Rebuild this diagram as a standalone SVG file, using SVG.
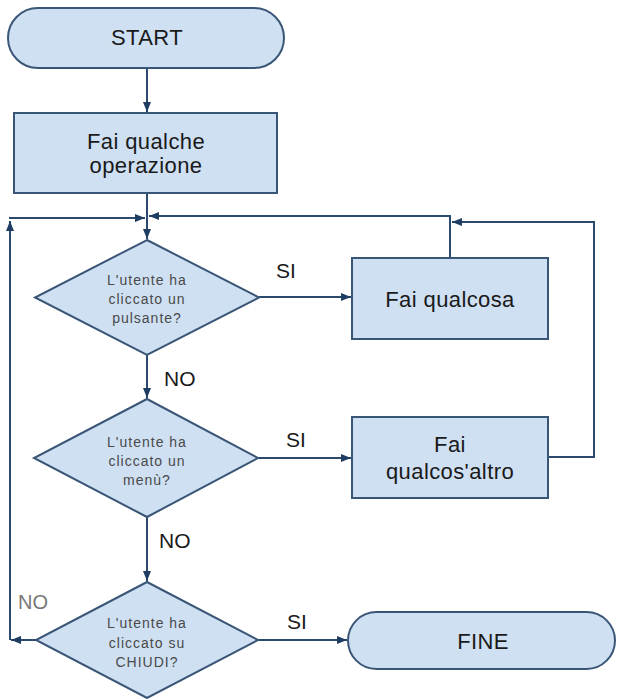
<svg xmlns="http://www.w3.org/2000/svg" width="617" height="699" viewBox="0 0 617 699">
<defs>
<marker id="ah" markerUnits="userSpaceOnUse" markerWidth="11" markerHeight="9" refX="10" refY="4" orient="auto">
<path d="M0,0 L10,4 L0,8 Z" fill="#1f3d63"/>
</marker>
<style>
.shape{fill:#cfe0f2;stroke:#3a5676;stroke-width:2}
.edge{fill:none;stroke:#2b4a6e;stroke-width:2;marker-end:url(#ah)}
.t{font-family:"Liberation Sans",Arial,sans-serif;font-size:22px;letter-spacing:0.4px;fill:#1a1a1a;text-anchor:middle}
.q{font-family:"Liberation Sans",Arial,sans-serif;font-size:14px;letter-spacing:1px;fill:#4a4a4a;text-anchor:middle}
.lbl{font-family:"Liberation Sans",Arial,sans-serif;font-size:21px;fill:#1a1a1a}
.lbl2{font-family:"Liberation Sans",Arial,sans-serif;font-size:20px;fill:#777777}
</style>
</defs>
<rect width="617" height="699" fill="#ffffff"/>
<g id="connectors">
<path class="edge" d="M147,68 L147,112"/>
<path class="edge" d="M147,193 L147,239"/>
<path class="edge" d="M9,218 L145,218"/>
<path class="edge" d="M450,258 L450,216 L149,216"/>
<path class="edge" d="M259,297 L351,297"/>
<path class="edge" d="M147,355 L147,398"/>
<path class="edge" d="M258,458 L351,458"/>
<path class="edge" d="M548,457 L594,457 L594,222 L452,222"/>
<path class="edge" d="M147,517 L147,581"/>
<path class="edge" d="M258,640 L347,640"/>
<path class="edge" d="M36,640 L11,640"/>
<path class="edge" d="M10,640 L10,221"/>
</g>
<g id="labels">
<text class="lbl" x="276" y="278">SI</text>
<text class="lbl" x="286" y="447">SI</text>
<text class="lbl" x="287" y="629">SI</text>
<text class="lbl" x="164" y="386">NO</text>
<text class="lbl" x="159" y="548">NO</text>
<text class="lbl2" x="18" y="609">NO</text>
</g>
<g id="start">
<rect class="shape" x="8" y="8" width="276" height="60" rx="30" ry="30"/>
<text class="t" x="147" y="45">START</text>
</g>
<g id="op">
<rect class="shape" x="14" y="113" width="263" height="80"/>
<text class="t" x="146" y="149">Fai qualche</text>
<text class="t" x="146" y="173">operazione</text>
</g>
<g id="d1">
<polygon class="shape" points="147,240 259,297.5 147,355 35,297.5"/>
<text class="q" x="147" y="285">L'utente ha</text>
<text class="q" x="147" y="304">cliccato un</text>
<text class="q" x="147" y="323">pulsante?</text>
</g>
<g id="r1">
<rect class="shape" x="352" y="258" width="196" height="81"/>
<text class="t" x="450" y="307">Fai qualcosa</text>
</g>
<g id="d2">
<polygon class="shape" points="147,399 258,458 147,517 34,458"/>
<text class="q" x="147" y="447">L'utente ha</text>
<text class="q" x="147" y="466">cliccato un</text>
<text class="q" x="147" y="485">menù?</text>
</g>
<g id="r2">
<rect class="shape" x="352" y="417" width="196" height="81"/>
<text class="t" x="450" y="452">Fai</text>
<text class="t" x="450" y="479">qualcos'altro</text>
</g>
<g id="d3">
<polygon class="shape" points="147,582 258,640 147,698 36,640"/>
<text class="q" x="147" y="628">L'utente ha</text>
<text class="q" x="147" y="648">cliccato su</text>
<text class="q" x="147" y="667">CHIUDI?</text>
</g>
<g id="fine">
<rect class="shape" x="348" y="612" width="267" height="57" rx="28.5" ry="28.5"/>
<text class="t" x="483" y="649">FINE</text>
</g>
</svg>
